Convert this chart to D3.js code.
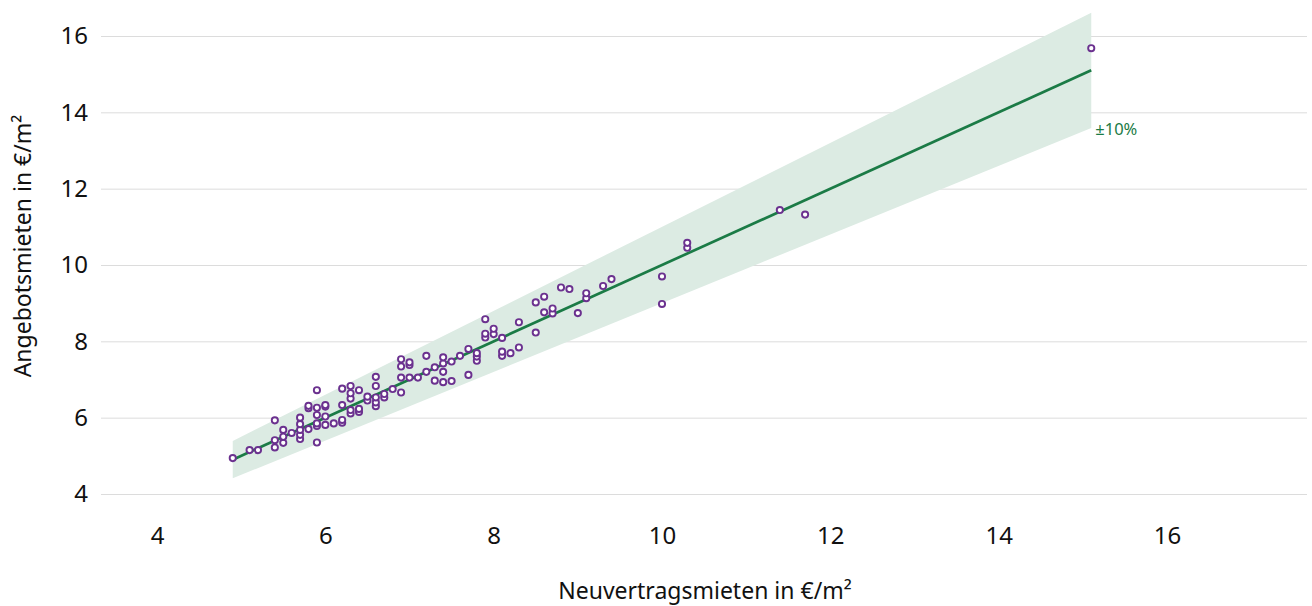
<!DOCTYPE html>
<html>
<head>
<meta charset="utf-8">
<script src="https://cdn.jsdelivr.net/npm/d3@7"></script>
<style>
  body { margin: 0; background: #fff; }
  text { font-family: "Noto Sans", sans-serif; fill: #111; }
</style>
</head>
<body>
<script>
// Neuvertragsmieten (x) und Angebotsmieten (y), in €/m²
var neuvertrag = [
  4.9, 5.1, 5.2, 5.4, 5.4, 5.4, 5.5, 5.5, 5.5, 5.6,
  5.7, 5.7, 5.7, 5.7, 5.7, 5.8, 5.8, 5.8, 5.9, 5.9,
  5.9, 5.9, 5.9, 5.9, 6.0, 6.0, 6.0, 6.0, 6.1, 6.2,
  6.2, 6.2, 6.2, 6.3, 6.3, 6.3, 6.3, 6.3, 6.4, 6.4,
  6.4, 6.5, 6.5, 6.6, 6.6, 6.6, 6.6, 6.6, 6.7, 6.7,
  6.8, 6.9, 6.9, 6.9, 6.9, 7.0, 7.0, 7.0, 7.1, 7.2,
  7.2, 7.3, 7.3, 7.4, 7.4, 7.4, 7.4, 7.5, 7.5, 7.6,
  7.7, 7.7, 7.8, 7.8, 7.8, 7.9, 7.9, 7.9, 8.0, 8.0,
  8.1, 8.1, 8.1, 8.2, 8.3, 8.3, 8.5, 8.5, 8.6, 8.6,
  8.7, 8.7, 8.8, 8.9, 9.0, 9.1, 9.1, 9.3, 9.4, 10.0,
  10.0, 10.3, 10.3, 11.4, 11.7, 15.1
];
var angebot = [
  4.94, 5.15, 5.15, 5.22, 5.41, 5.93, 5.34, 5.5, 5.68, 5.6,
  5.44, 5.55, 5.68, 5.83, 6.0, 5.7, 6.25, 6.31, 5.35, 5.78,
  5.85, 6.07, 6.26, 6.72, 5.81, 6.03, 6.29, 6.33, 5.85, 5.87,
  5.94, 6.33, 6.76, 6.11, 6.2, 6.5, 6.64, 6.83, 6.15, 6.23,
  6.72, 6.45, 6.55, 6.3, 6.4, 6.53, 6.83, 7.07, 6.53, 6.62,
  6.75, 6.66, 7.05, 7.34, 7.53, 7.05, 7.38, 7.45, 7.05, 7.2,
  7.62, 6.97, 7.32, 6.93, 7.2, 7.42, 7.58, 6.96, 7.47, 7.62,
  7.12, 7.8, 7.49, 7.6, 7.69, 8.1, 8.2, 8.58, 8.19, 8.33,
  7.62, 7.73, 8.09, 7.69, 7.84, 8.5, 8.23, 9.02, 8.76, 9.17,
  8.73, 8.86, 9.41, 9.37, 8.74, 9.13, 9.26, 9.45, 9.63, 8.98,
  9.7, 10.45, 10.58, 11.44, 11.32, 15.68
];
var xTicks = [4, 6, 8, 10, 12, 14, 16];
var yTicks = [4, 6, 8, 10, 12, 14, 16];
var bandLabel = '±10%';

var width = 1312;
var height = 606;

var data = neuvertrag.map(function(x, i) {
  return { x: x, y: angebot[i] };
});

var xScale = d3.scaleLinear()
  .domain([4, 16])
  .range([157, 1167]);

var yScale = d3.scaleLinear()
  .domain([4, 16])
  .range([494, 36]);

var svg = d3.select('body')
  .append('svg')
  .attr('width', width)
  .attr('height', height);

// horizontal grid + y labels
var yAxis = d3.axisLeft(yScale)
  .tickValues(yTicks)
  .tickSize(-(1307 - 101))
  .tickPadding(13);

svg.append('g')
  .attr('class', 'y axis')
  .attr('transform', 'translate(101,0)')
  .call(yAxis)
  .call(function(g) {
    g.select('.domain').remove();
    g.selectAll('line').attr('stroke', '#dcdcdc');
    g.selectAll('text').attr('font-size', 24).attr('font-family', '"Noto Sans", sans-serif').attr('fill', '#111');
  });

var xAxis = d3.axisBottom(xScale)
  .tickValues(xTicks)
  .tickSize(0)
  .tickPadding(33);

svg.append('g')
  .attr('class', 'x axis')
  .attr('transform', 'translate(0,494)')
  .call(xAxis)
  .call(function(g) {
    g.select('.domain').remove();
    g.selectAll('text').attr('font-size', 24).attr('font-family', '"Noto Sans", sans-serif').attr('fill', '#111');
  });

// ±10% band and 1:1 line
var xMin = d3.min(neuvertrag);
var xMax = d3.max(neuvertrag);

var band = d3.area()
  .x(function(d) { return xScale(d); })
  .y0(function(d) { return yScale(d * 0.9); })
  .y1(function(d) { return yScale(d * 1.1); });

svg.append('path')
  .datum([xMin, xMax])
  .attr('d', band)
  .attr('fill', '#dcebe3');

var line = d3.line()
  .x(function(d) { return xScale(d); })
  .y(function(d) { return yScale(d); });

svg.append('path')
  .datum([xMin, xMax])
  .attr('d', line)
  .attr('fill', 'none')
  .attr('stroke', '#1b7b46')
  .attr('stroke-width', 2.7);

svg.append('text')
  .attr('x', xScale(xMax) + 4)
  .attr('y', yScale(xMax * 0.9) + 7)
  .attr('font-size', 16.5)
  .style('fill', '#1b7b46')
  .text(bandLabel);

// points
svg.append('g')
  .selectAll('circle')
  .data(data)
  .enter()
  .append('circle')
  .attr('cx', function(d) { return xScale(d.x); })
  .attr('cy', function(d) { return yScale(d.y); })
  .attr('r', 3.1)
  .attr('fill', '#fff')
  .attr('stroke', '#6b318f')
  .attr('stroke-width', 1.9);

// axis titles
svg.append('text')
  .attr('x', 705)
  .attr('y', 599)
  .attr('text-anchor', 'middle')
  .attr('font-size', 23)
  .text('Neuvertragsmieten in €/m²');

svg.append('text')
  .attr('transform', 'translate(31,246) rotate(-90)')
  .attr('text-anchor', 'middle')
  .attr('font-size', 23)
  .text('Angebotsmieten in €/m²');
</script>
</body>
</html>
